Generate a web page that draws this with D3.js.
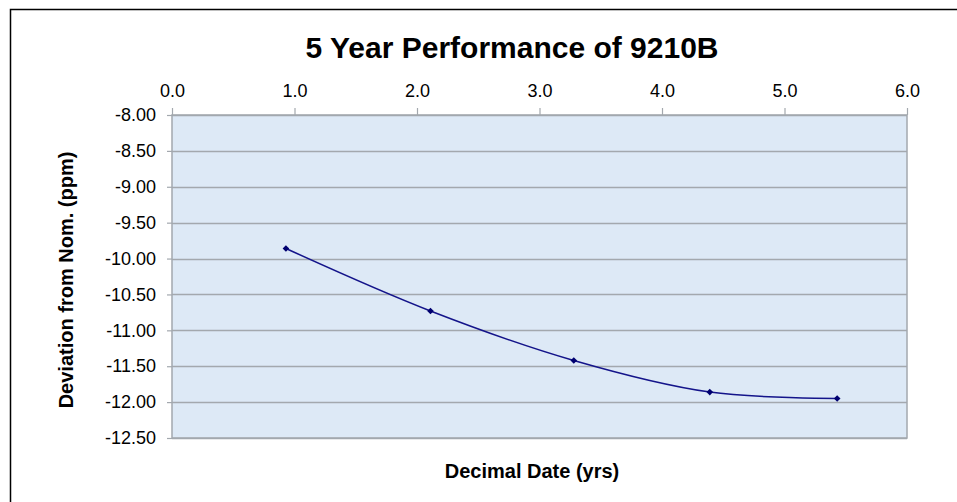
<!DOCTYPE html>
<html>
<head>
<meta charset="utf-8">
<script src="https://cdn.jsdelivr.net/npm/d3@7"></script>
<style>
	body { margin: 0; background: #fff; }
	svg { display: block; font-family: "Liberation Sans", Arial, sans-serif; }
</style>
</head>
<body>
<svg id="chart" width="957" height="502"></svg>
<script>
// data
var years = [0.93, 2.11, 3.28, 4.39, 5.43];
var deviation = [-9.86, -10.73, -11.42, -11.86, -11.95];
var xTicks = [0, 1, 2, 3, 4, 5, 6];
var yTicks = [-8, -8.5, -9, -9.5, -10, -10.5, -11, -11.5, -12, -12.5];

var svg = d3.select('#chart');
var plotL = 172, plotR = 907, plotT = 115, plotB = 438;

// outer frame (runs off the page on right/bottom)
svg.append('rect')
	.attr('x', 10.5).attr('y', 9.5)
	.attr('width', 1000).attr('height', 600)
	.attr('fill', '#fff').attr('stroke', '#000').attr('stroke-width', 1.5);

var xScale = d3.scaleLinear().domain([0, 6]).range([plotL, plotR]);
var yScale = d3.scaleLinear().domain([-12.5, -8]).range([plotB, plotT]);

// plot area
svg.append('rect')
	.attr('x', plotL).attr('y', plotT)
	.attr('width', plotR - plotL).attr('height', plotB - plotT)
	.attr('fill', '#dde9f6');

// gridlines
svg.append('g').selectAll('line')
	.data(yTicks)
	.enter()
	.append('line')
	.attr('x1', plotL).attr('x2', plotR)
	.attr('y1', function (d) { return Math.round(yScale(d)) + 0.5; })
	.attr('y2', function (d) { return Math.round(yScale(d)) + 0.5; })
	.attr('stroke', '#a3a8ae').attr('stroke-width', 1.5);

// plot border
svg.append('rect')
	.attr('x', plotL).attr('y', plotT)
	.attr('width', plotR - plotL).attr('height', plotB - plotT)
	.attr('fill', 'none').attr('stroke', '#a3a8ae').attr('stroke-width', 1.5);

var xAxis = d3.axisTop(xScale).tickValues(xTicks).tickFormat(d3.format('.1f')).tickSize(7).tickPadding(11);
var yAxis = d3.axisLeft(yScale).tickValues(yTicks).tickFormat(d3.format('.2f')).tickSize(5).tickPadding(11);

var gx = svg.append('g').attr('transform', 'translate(0,' + plotT + ')').call(xAxis);
var gy = svg.append('g').attr('transform', 'translate(' + plotL + ',0)').call(yAxis);

[gx, gy].forEach(function (g) {
	g.select('.domain').remove();
	g.selectAll('.tick line').attr('stroke', '#a3a8ae').attr('stroke-width', 1.2);
	g.selectAll('.tick text')
		.attr('fill', '#000')
		.style('font-family', '"Liberation Sans", Arial, sans-serif')
		.style('font-size', '18px');
});
gy.selectAll('.tick text').text(function (d) { return d3.format('.2f')(d).replace('−', '-'); });

// smoothed series line
var line = d3.line()
	.x(function (d, i) { return xScale(years[i]); })
	.y(function (d) { return yScale(d); })
	.curve(d3.curveCatmullRom.alpha(0.5));

svg.append('path')
	.datum(deviation)
	.attr('d', line)
	.attr('fill', 'none')
	.attr('stroke', '#14148a')
	.attr('stroke-width', 1.5);

// diamond markers
svg.append('g').selectAll('path')
	.data(deviation)
	.enter()
	.append('path')
	.attr('d', d3.symbol().type(d3.symbolSquare).size(22))
	.attr('transform', function (d, i) {
		return 'translate(' + xScale(years[i]) + ',' + yScale(d) + ') rotate(45)';
	})
	.attr('fill', '#000070');

// titles
svg.append('text')
	.attr('x', 512).attr('y', 58)
	.attr('text-anchor', 'middle')
	.style('font-size', '30px').style('font-weight', 'bold')
	.text('5 Year Performance of 9210B');

svg.append('text')
	.attr('x', 532).attr('y', 478)
	.attr('text-anchor', 'middle')
	.style('font-size', '20px').style('font-weight', 'bold')
	.text('Decimal Date (yrs)');

svg.append('text')
	.attr('transform', 'translate(73,280) rotate(-90)')
	.attr('text-anchor', 'middle')
	.style('font-size', '20px').style('font-weight', 'bold')
	.text('Deviation from Nom. (ppm)');
</script>
</body>
</html>
